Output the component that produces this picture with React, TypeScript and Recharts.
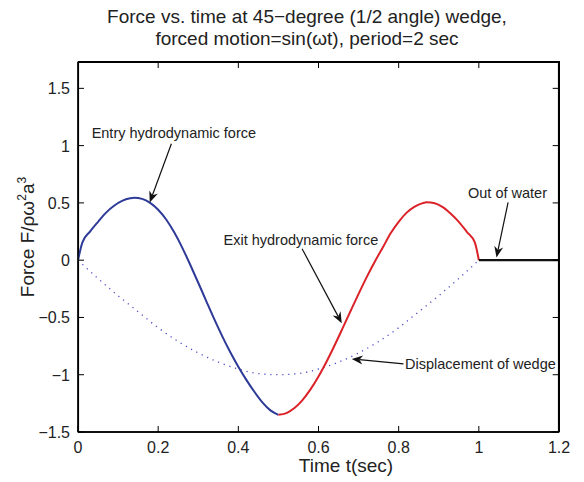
import React from "react";
import { LineChart, Line, XAxis, YAxis, ReferenceLine, ReferenceDot, ReferenceArea } from "recharts";

// values (time in sec, force F/(rho w^2 a^3))
const entryT = [0, 0.011, 0.03, 0.05, 0.07, 0.09, 0.11, 0.13, 0.14, 0.16, 0.18, 0.2, 0.22, 0.24, 0.26, 0.28, 0.3, 0.32, 0.34, 0.36, 0.38, 0.4, 0.42, 0.44, 0.46, 0.48, 0.5];
const entryF = [0, 0.155, 0.25, 0.335, 0.415, 0.475, 0.517, 0.54, 0.545, 0.535, 0.5, 0.44, 0.355, 0.243, 0.11, -0.04, -0.197, -0.357, -0.515, -0.665, -0.804, -0.93, -1.045, -1.149, -1.241, -1.311, -1.35];

const exitT = [0.5, 0.52, 0.54, 0.56, 0.58, 0.6, 0.62, 0.64, 0.66, 0.68, 0.7, 0.72, 0.74, 0.76, 0.78, 0.8, 0.82, 0.84, 0.86, 0.87, 0.89, 0.91, 0.93, 0.95, 0.97, 0.99, 1.0];
const exitF = [-1.35, -1.335, -1.291, -1.221, -1.128, -1.015, -0.886, -0.745, -0.596, -0.444, -0.294, -0.15, -0.016, 0.108, 0.235, 0.335, 0.415, 0.468, 0.498, 0.505, 0.497, 0.463, 0.405, 0.335, 0.248, 0.155, 0];

const outT = [1.0, 1.2];
const outF = [0, 0];

const dispT = [0, 0.05, 0.1, 0.15, 0.2, 0.25, 0.3, 0.35, 0.4, 0.45, 0.5, 0.55, 0.6, 0.65, 0.7, 0.75, 0.8, 0.85, 0.9, 0.95, 1.0];
const dispY = [0, -0.16, -0.31, -0.45, -0.59, -0.71, -0.81, -0.89, -0.95, -0.99, -1.0, -0.99, -0.95, -0.89, -0.81, -0.71, -0.59, -0.45, -0.31, -0.16, 0];

const xTicks = [0, 0.2, 0.4, 0.6, 0.8, 1, 1.2];
const yTicks = [-1.5, -1, -0.5, 0, 0.5, 1, 1.5];
const xMin = 0, xMax = 1.2;
const yMin = -1.5, yMax = 1.73;
// tiny inset so box/tick refs at the very edge aren't dropped by the range check
const eps = 0.0008;

// annotations: label anchor (left, middle) and arrow from -> to, in data units
const noteLabels = ["Entry hydrodynamic force", "Exit hydrodynamic force", "Out of water", "Displacement of wedge"];
const noteX = [0.034, 0.363, 0.973, 0.816];
const noteY = [1.11, 0.179, 0.587, -0.905];
const arrowFrom = [[0.233, 1.017], [0.559, 0.1], [1.073, 0.504], [0.812, -0.906]];
const arrowTo = [[0.179, 0.504], [0.658, -0.55], [1.044, 0.024], [0.683, -0.862]];

const FONT = "'Liberation Sans', Arial, Helvetica, sans-serif";
const W = 584, H = 482;
const M = { top: 62, right: 25, bottom: 0, left: 0 };
const X_AXIS_H = 50, Y_AXIS_W = 78;

const zip = (ts: number[], vs: number[]) => ts.map((t, i) => ({ t, v: vs[i] }));
const fmt = (v: number) => (v < 0 ? "\u2212" + Math.abs(v) : String(v));

const BottomTick = (p: any) => (
  <g>
    <line x1={p.x} y1={p.y} x2={p.x} y2={p.y - 6} stroke="#000" strokeWidth={1} />
    <text x={p.x} y={p.y + 21} textAnchor="middle" fontSize={16} fill="#222" fontFamily={FONT}>
      {fmt(p.payload.value)}
    </text>
  </g>
);
const LeftTick = (p: any) => (
  <g>
    <line x1={p.x} y1={p.y} x2={p.x + 6} y2={p.y} stroke="#000" strokeWidth={1} />
    <text x={p.x - 8} y={p.y + 6} textAnchor="end" fontSize={16} fill="#222" fontFamily={FONT}>
      {fmt(p.payload.value)}
    </text>
  </g>
);
// inward tick marks on the top and right sides of the box
const TopMark = (p: any) => <line x1={p.cx} y1={p.cy} x2={p.cx} y2={p.cy + 6} stroke="#000" strokeWidth={1} />;
const RightMark = (p: any) => <line x1={p.cx} y1={p.cy} x2={p.cx - 6} y2={p.cy} stroke="#000" strokeWidth={1} />;

const Arrow = (p: any) => {
  const { x1, y1, x2, y2 } = p;
  const dx = x2 - x1, dy = y2 - y1;
  const len = Math.sqrt(dx * dx + dy * dy) || 1;
  const ux = dx / len, uy = dy / len;
  const px = -uy, py = ux;
  const L = 11, Wd = 4.5;
  const bx = x2 - ux * L, by = y2 - uy * L;
  const nx = x2 - ux * L * 0.7, ny = y2 - uy * L * 0.7;
  return (
    <g>
      <line x1={x1} y1={y1} x2={nx} y2={ny} stroke="#111" strokeWidth={1.2} />
      <polygon
        points={`${x2},${y2} ${bx + px * Wd},${by + py * Wd} ${nx},${ny} ${bx - px * Wd},${by - py * Wd}`}
        fill="#111"
      />
    </g>
  );
};

const NoteText = (label: string) => (p: any) => (
  <text x={p.cx} y={p.cy} dy={5} fontSize={14.5} fill="#222" fontFamily={FONT}>
    {label}
  </text>
);

export default function App() {
  const plotRight = W - M.right;
  const plotBottom = H - M.bottom - X_AXIS_H;
  return (
    <div style={{ position: "absolute", left: 0, top: 0, width: W, height: H, background: "#fff", fontFamily: FONT }}>
      <div style={{ position: "absolute", left: 57, width: 500, top: 6, textAlign: "center", fontSize: 19, lineHeight: "22px", color: "#222" }}>
        Force vs. time at 45{"\u2212"}degree (1/2 angle) wedge,
        <br />
        forced motion=sin({"\u03c9"}t), period=2 sec
      </div>
      <div style={{ position: "absolute", left: 246, width: 200, top: 455, textAlign: "center", fontSize: 19, color: "#222" }}>
        Time t(sec)
      </div>
      <div
        style={{
          position: "absolute", left: 27, top: 237, transform: "translate(-50%, -50%) rotate(-90deg)",
          whiteSpace: "nowrap", fontSize: 19, color: "#222",
        }}
      >
        Force F/{"\u03c1\u03c9"}<sup style={{ fontSize: 12 }}>2</sup>a<sup style={{ fontSize: 12 }}>3</sup>
      </div>
      <LineChart width={W} height={H} margin={M} style={{ position: "absolute", left: 0, top: 0 }}>
        <XAxis
          dataKey="t" type="number" domain={[xMin, xMax]} ticks={xTicks} interval={0}
          height={X_AXIS_H} tickSize={0} tickMargin={0} tickLine={false} tick={<BottomTick />}
          axisLine={{ stroke: "#000", strokeWidth: 1.5 }} allowDataOverflow
        />
        <YAxis
          type="number" domain={[yMin, yMax]} ticks={yTicks} interval={0}
          width={Y_AXIS_W} tickSize={0} tickMargin={0} tickLine={false} tick={<LeftTick />}
          axisLine={{ stroke: "#000", strokeWidth: 1.5 }} allowDataOverflow
        />
        <ReferenceArea
          x1={xMin + eps} x2={xMax - eps} y1={yMin + eps} y2={yMax - eps}
          fill="none" fillOpacity={0} stroke="#000" strokeWidth={1.5} strokeOpacity={1} ifOverflow="visible"
        />
        {xTicks.map((v) => (
          <ReferenceDot
            key={"tx" + v} x={Math.min(Math.max(v, xMin + eps), xMax - eps)} y={yMax - eps}
            r={0} shape={TopMark} ifOverflow="visible"
          />
        ))}
        {yTicks.map((v) => (
          <ReferenceDot
            key={"ty" + v} x={xMax - eps} y={Math.min(Math.max(v, yMin + eps), yMax - eps)}
            r={0} shape={RightMark} ifOverflow="visible"
          />
        ))}
        <Line
          data={zip(dispT, dispY)} dataKey="v" type="monotone"
          stroke="#4a4ac8" strokeWidth={1.3} strokeDasharray="1.2 4.8" dot={false} activeDot={false} isAnimationActive={false}
        />
        <Line
          data={zip(entryT, entryF)} dataKey="v" type="monotone"
          stroke="#2e3a97" strokeWidth={2} dot={false} activeDot={false} isAnimationActive={false}
        />
        <Line
          data={zip(exitT, exitF)} dataKey="v" type="monotone"
          stroke="#dc2229" strokeWidth={2} dot={false} activeDot={false} isAnimationActive={false}
        />
        <Line
          data={zip(outT, outF)} dataKey="v" type="linear"
          stroke="#111" strokeWidth={2.4} dot={false} activeDot={false} isAnimationActive={false}
        />
        {noteLabels.map((label, i) => (
          <ReferenceLine
            key={"a" + i}
            segment={[{ x: arrowFrom[i][0], y: arrowFrom[i][1] }, { x: arrowTo[i][0], y: arrowTo[i][1] }]}
            shape={Arrow} ifOverflow="visible"
          />
        ))}
        {noteLabels.map((label, i) => (
          <ReferenceDot key={"n" + i} x={noteX[i]} y={noteY[i]} r={0} shape={NoteText(label)} ifOverflow="visible" />
        ))}
      </LineChart>
      {/* top and right sides of the axes box */}
      <div
        style={{
          position: "absolute", zIndex: 10, pointerEvents: "none", boxSizing: "border-box",
          left: Y_AXIS_W, top: M.top - 1, width: plotRight - Y_AXIS_W + 1, height: plotBottom - M.top + 1,
          borderTop: "2px solid #000", borderRight: "2px solid #000",
        }}
      />
    </div>
  );
}
